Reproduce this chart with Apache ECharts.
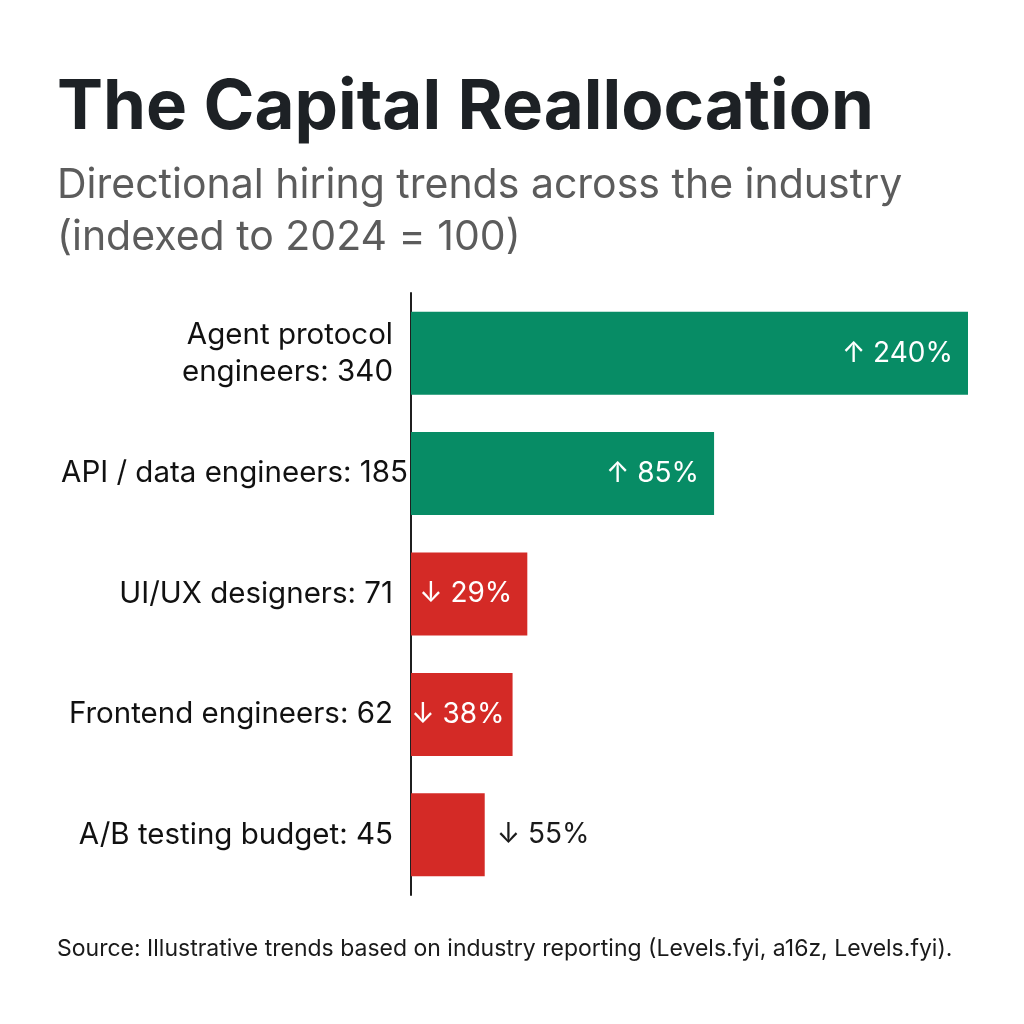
<!DOCTYPE html>
<html>
<head>
<meta charset="utf-8">
<script src="https://cdn.jsdelivr.net/npm/echarts@6/dist/echarts.min.js"></script>
<style>
  html, body { margin: 0; padding: 0; background: #fff; }
  #chart { width: 1024px; height: 1024px; }
</style>
</head>
<body>
<div id="chart"></div>
<script>
// data
const categories = ['Agent protocol\nengineers', 'API / data engineers', 'UI/UX designers', 'Frontend engineers', 'A/B testing budget'];
const values = [340, 185, 71, 62, 45];
const changes = ['↑ 240%', '↑ 85%', '↓ 29%', '↓ 38%', '↓ 55%'];

const GREEN = '#078c65';
const RED = '#d42a26';
const FONT = 'Inter, "Noto Sans", sans-serif';

const chart = echarts.init(document.getElementById('chart'));

const barData = values.map((v, i) => {
  const up = changes[i].startsWith('↑');
  const outside = v < 50;
  return {
    value: v,
    itemStyle: { color: up ? GREEN : RED },
    label: {
      show: true,
      formatter: changes[i],
      position: outside ? 'right' : 'insideRight',
      distance: outside ? 12 : (v < 65 ? 8 : 15),
      color: outside ? '#1a1a1a' : '#ffffff',
    },
  };
});

// the long single-line label sits closer to the axis in the reference
const catData = categories.map((c) => (
  c === 'API / data engineers'
    ? { value: c, textStyle: { padding: [0, -15, 0, 0] } }
    : c
));

chart.setOption({
  backgroundColor: '#ffffff',
  animation: false,
  textStyle: { fontFamily: FONT },
  grid: { left: 411, right: 56, top: 293, bottom: 129, containLabel: false },
  xAxis: {
    type: 'value',
    min: 0,
    max: 340,
    show: false,
  },
  yAxis: {
    type: 'category',
    inverse: true,
    data: catData,
    axisLine: { show: true, lineStyle: { color: '#1f1f1f', width: 2 } },
    axisTick: { show: false },
    axisLabel: {
      margin: 18,
      fontSize: 29.5,
      lineHeight: 37,
      color: '#111111',
      fontFamily: FONT,
      formatter: (name, idx) => `${name}: ${values[idx]}`,
    },
  },
  series: [
    {
      type: 'bar',
      barWidth: 83,
      data: barData,
      label: { fontSize: 28, fontFamily: FONT },
    },
  ],
  graphic: [
    {
      type: 'text',
      left: 57,
      top: 74,
      style: {
        text: 'The Capital Reallocation',
        font: `bold 69px ${FONT}`,
        fill: '#1d2125',
      },
    },
    {
      type: 'text',
      left: 57,
      top: 160,
      style: {
        text: 'Directional hiring trends across the industry\n(indexed to 2024 = 100)',
        font: `41px ${FONT}`,
        lineHeight: 52,
        fill: '#5c5c5c',
      },
    },
    {
      type: 'text',
      left: 57,
      top: 938,
      style: {
        text: 'Source: Illustrative trends based on industry reporting (Levels.fyi, a16z, Levels.fyi).',
        font: `23px ${FONT}`,
        fill: '#1a1a1a',
      },
    },
  ],
});
</script>
</body>
</html>
